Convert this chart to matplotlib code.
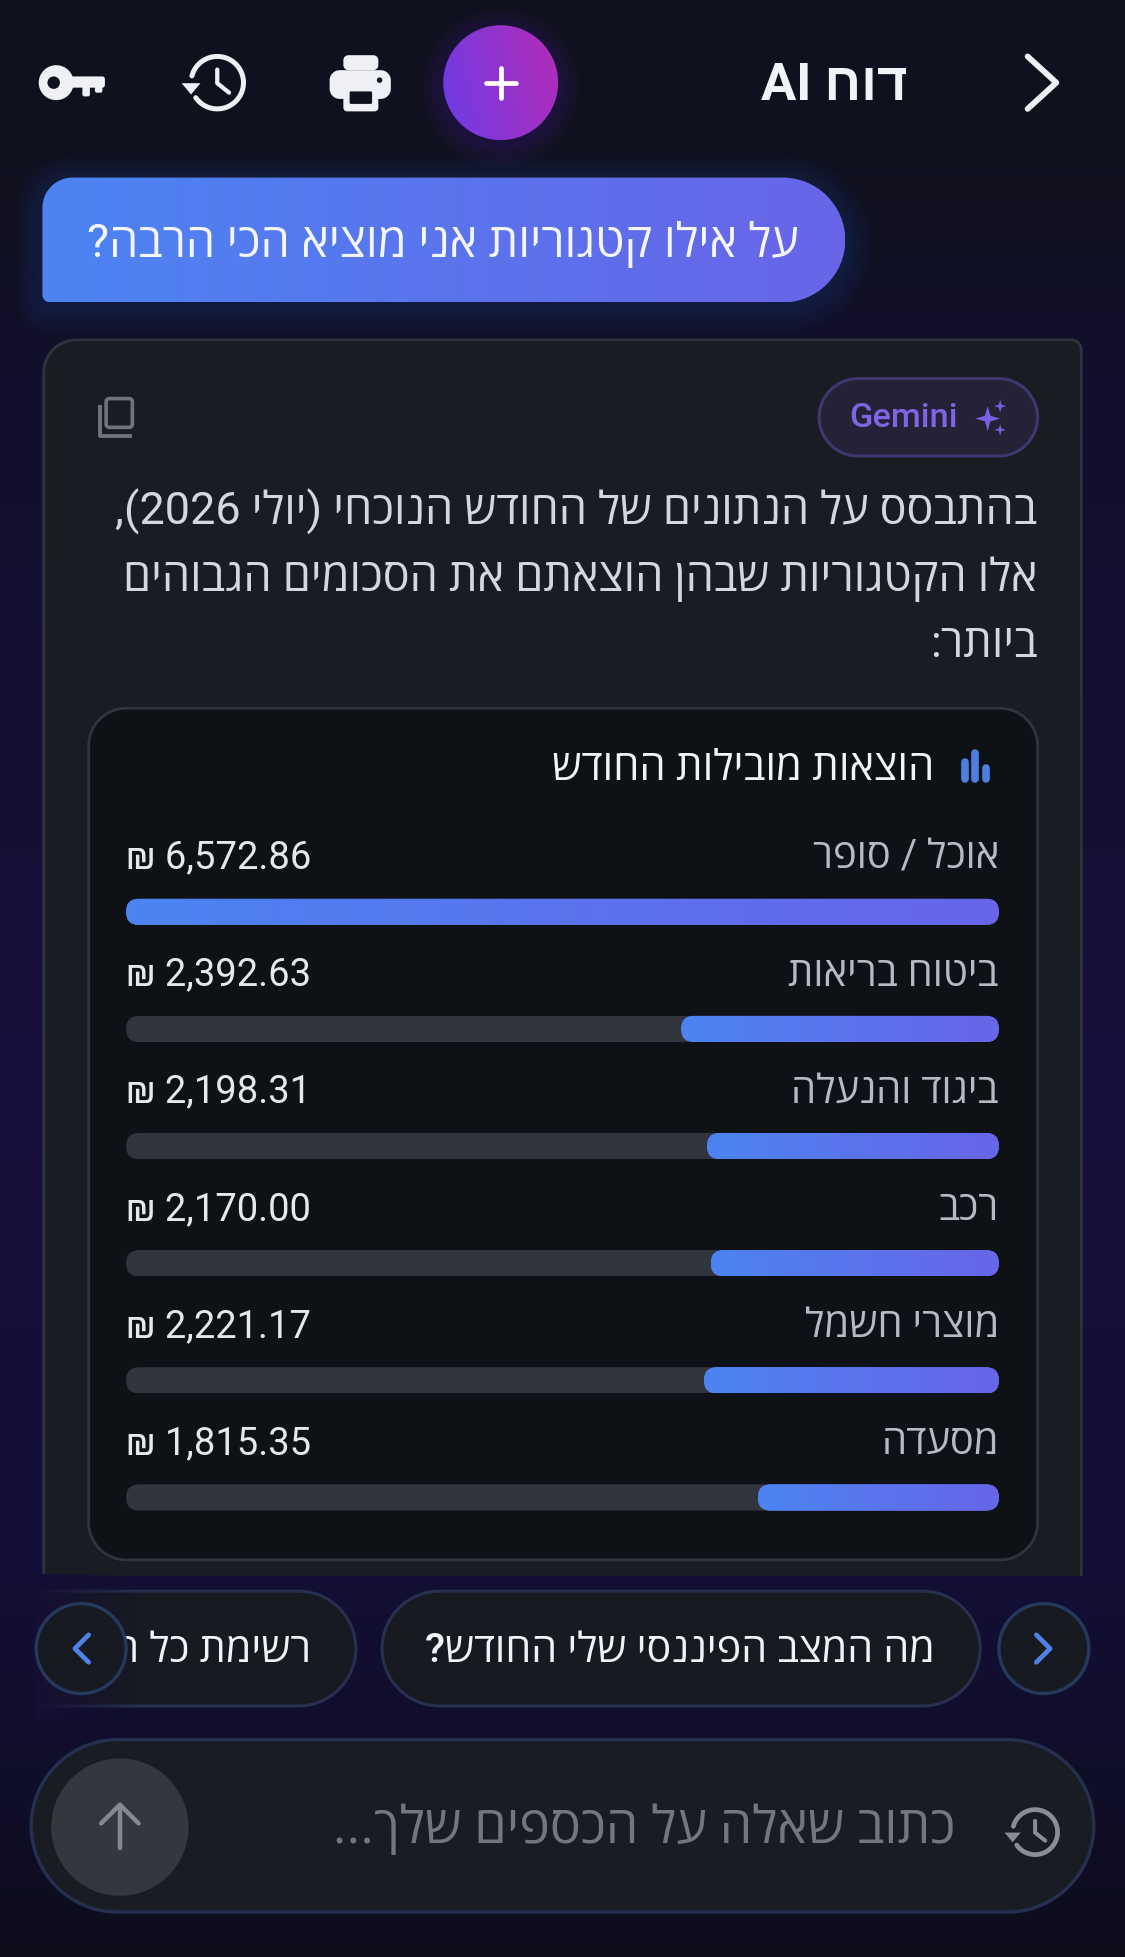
import re
import numpy as np
import matplotlib
matplotlib.use("Agg")
import matplotlib.pyplot as plt
from matplotlib.path import Path
from matplotlib.patches import PathPatch, Circle, FancyBboxPatch, Rectangle
from matplotlib.colors import LinearSegmentedColormap
from matplotlib.transforms import IdentityTransform

# ---- data ----
categories = ["אוכל / סופר", "ביטוח בריאות", "ביגוד והנעלה", "רכב", "מוצרי חשמל", "מסעדה"]
amounts = [6572.86, 2392.63, 2198.31, 2170.00, 2221.17, 1815.35]
amount_labels = ["6,572.86", "2,392.63", "2,198.31", "2,170.00", "2,221.17", "1,815.35"]
header_title = "דוח AI"
question = "על אילו קטגוריות אני מוציא הכי הרבה?"
paragraph = ["בהתבסס על הנתונים של החודש הנוכחי (יולי 2026),",
             "אלו הקטגוריות שבהן הוצאתם את הסכומים הגבוהים",
             "ביותר:"]
panel_title = "הוצאות מובילות החודש"
chips = ["מה המצב הפיננסי שלי החודש?", "רשימת כל ההוצאות"]
placeholder = "כתוב שאלה על הכספים שלך..."

FONT = ["Roboto", "Open Sans", "Liberation Sans", "DejaVu Sans"]
W, H = 901, 1568
PT = 1125 / 901 * 0.72


def vis(s):
    toks = re.findall(r"[A-Za-z0-9]+(?:[.,][0-9]+)*|.", s)
    mirror = {"(": ")", ")": "("}
    return "".join(mirror.get(t, t) for t in reversed(toks))


fig = plt.figure(figsize=(11.25, 19.58), dpi=100)
ax = fig.add_axes([0, 0, 1, 1])
ax.set_xlim(0, W)
ax.set_ylim(H, 0)
ax.axis("off")
ax.set_autoscale_on(False)


def rr(x0, y0, x1, y1, tl, tr=None, br=None, bl=None):
    tr = tl if tr is None else tr
    br = tl if br is None else br
    bl = tl if bl is None else bl
    k = 0.45
    v = [(x0 + tl, y0), (x1 - tr, y0),
         (x1 - tr * k, y0), (x1, y0 + tr * k), (x1, y0 + tr),
         (x1, y1 - br),
         (x1, y1 - br * k), (x1 - br * k, y1), (x1 - br, y1),
         (x0 + bl, y1),
         (x0 + bl * k, y1), (x0, y1 - bl * k), (x0, y1 - bl),
         (x0, y0 + tl),
         (x0, y0 + tl * k), (x0 + tl * k, y0), (x0 + tl, y0),
         (x0 + tl, y0)]
    c = [Path.MOVETO, Path.LINETO, Path.CURVE4, Path.CURVE4, Path.CURVE4, Path.LINETO,
         Path.CURVE4, Path.CURVE4, Path.CURVE4, Path.LINETO,
         Path.CURVE4, Path.CURVE4, Path.CURVE4, Path.LINETO,
         Path.CURVE4, Path.CURVE4, Path.CURVE4, Path.CLOSEPOLY]
    return Path(v, c)


def box(x0, y0, x1, y1, r, fc="none", ec="none", lw=0, z=2, **kw):
    radii = r if isinstance(r, tuple) else (r,)
    p = PathPatch(rr(x0, y0, x1, y1, *radii), fc=fc, ec=ec, lw=lw, zorder=z, **kw)
    ax.add_patch(p)
    return p


def grad(axis, extent, c0, c1, clip, z, diag=0.0):
    yy, xx = np.mgrid[0:1:32j, 0:1:128j]
    img = xx + diag * (1 - yy)
    cm = LinearSegmentedColormap.from_list("g", [c0, c1])
    im = axis.imshow(img, extent=extent, cmap=cm, aspect="auto", zorder=z,
                     vmin=0, vmax=1 + diag, interpolation="bilinear")
    im.set_clip_path(clip)
    return im


def txt(x, y, s, px, color, ha="right", z=6, weight="normal", **kw):
    return ax.text(x, y, s, fontsize=px * PT, color=color, ha=ha, va="baseline",
                   family=FONT, zorder=z, weight=weight, **kw)


# background
bgc = LinearSegmentedColormap.from_list("bg", [(0, "#0f1020"), (0.09, "#10111f"), (0.2, "#120f2c"),
                                               (0.55, "#180f3c"), (0.8, "#140f36"),
                                               (0.93, "#0f0e26"), (1, "#0d0d1c")])
ax.imshow(np.linspace(0, 1, 256)[:, None], extent=(0, W, H, 0), cmap=bgc, aspect="auto", zorder=0)
ax.add_patch(Rectangle((0, 0), W, 135, fc="#10111e", ec="none", zorder=0.5))


def glow(x0, y0, x1, y1, r, color, n=12, spread=24, a=0.03, z=1):
    radii = r if isinstance(r, tuple) else (r,)
    for i in range(n):
        d = spread * (i + 1) / n
        box(x0 - d, y0 - d + 4, x1 + d, y1 + d + 4, tuple(v + d for v in radii),
            fc=color, z=z, alpha=a)


# header icons
ICON = "#eef0f5"
ax.add_patch(Circle((45, 67), 14, fc=ICON, ec="none", zorder=5))
ax.add_patch(Circle((43, 67), 5, fc="#10111e", ec="none", zorder=6))
box(52, 62, 84, 71, 2, fc=ICON, z=5)
box(66, 68, 72, 78, 1.5, fc=ICON, z=5)
box(76, 68, 82, 75, 1.5, fc=ICON, z=5)


def history(cx, cy, r, color, lw, z=5):
    t = np.radians(np.linspace(165, -145, 80))
    ax.plot(cx + r * np.cos(t), cy - r * np.sin(t), color=color, lw=lw, zorder=z, solid_capstyle="round")
    ax.add_patch(plt.Polygon([(cx - r - r * .36, cy + r * .02), (cx - r + r * .36, cy + r * .02), (cx - r, cy + r * .45)],
                             fc=color, ec="none", zorder=z))
    ax.plot([cx, cx, cx + r * .45], [cy - r * .5, cy + r * .02, cy + r * .38], color=color, lw=lw * .85,
            zorder=z, solid_capstyle="round", solid_joinstyle="round")


history(174, 67, 21, ICON, 3.6)

box(275, 45, 303, 57, 4, fc=ICON, z=5)
box(264, 57, 313, 80, 8, fc=ICON, z=5)
box(275, 71, 303, 90, 3, fc=ICON, ec="#10111e", lw=0, z=6)
box(280, 74, 298, 84, 1, fc="#10111e", z=7)
ax.add_patch(Circle((304, 65), 2.2, fc="#10111e", zorder=7))

# plus button
glow(355, 21, 447, 113, 46, "#7a35d8", n=10, spread=18, a=0.02)
c = Circle((401, 67), 46, fc="none", ec="none", zorder=3)
ax.add_patch(c)
grad(ax, (355, 447, 113, 21), "#6c3ce6", "#b42cb8", c, 3, diag=0.25)
ax.plot([389, 413], [67, 67], color="white", lw=3.4, zorder=5, solid_capstyle="round")
ax.plot([401, 401], [55, 79], color="white", lw=3.4, zorder=5, solid_capstyle="round")

txt(727, 80, vis(header_title), 42, "#f1f3f7", weight="bold")
ax.plot([823, 846, 823], [46, 67, 88], color=ICON, lw=4.2, zorder=5, solid_capstyle="round", solid_joinstyle="round")

# question bubble
R = (24, 50, 50, 6)
glow(34, 143, 677, 243, R, "#4f78e8", n=12, spread=22, a=0.014)
b = box(34, 143, 677, 243, R, fc="none", z=3)
grad(ax, (34, 677, 243, 143), "#4c84f2", "#6865e8", b, 3)
txt(640, 206, vis(question), 37.4, "#f5f6fa")

# outer card, open at the bottom
cardclip = Rectangle((0, 0), W, 1263, transform=ax.transData)
card = box(35, 273, 866, 1320, (26, 8, 0, 0), fc="#191c23", ec="#2f333d", lw=2, z=2)
card.set_clip_path(cardclip)

# copy icon
box(85, 320, 106, 343, 2.5, ec="#6f737b", lw=2.6, z=5)
ax.plot([80, 80, 104], [327, 350, 350], color="#6f737b", lw=2.8, zorder=5, solid_joinstyle="round")

# Gemini chip
box(656, 304, 831, 366, 31, fc="#252238", ec="#3f3870", lw=2.2, z=4)
txt(680, 342, "Gemini", 27.5, "#7f64e6", ha="left", weight="medium")


def spark(cx, cy, s, color):
    a = s * 0.22
    pts = [(cx, cy - s), (cx + a, cy - a), (cx + s, cy), (cx + a, cy + a),
           (cx, cy + s), (cx - a, cy + a), (cx - s, cy), (cx - a, cy - a)]
    ax.add_patch(plt.Polygon(pts, fc=color, ec="none", zorder=5))


spark(791, 336, 10, "#7d5fe6")
spark(801, 326, 5, "#7d5fe6")
spark(801, 345, 4.5, "#7d5fe6")

# paragraph
for yy, line in zip([420, 473, 526], paragraph):
    txt(831, yy, vis(line), 36, "#d4d7dd")

# inner panel
box(71, 568, 831, 1250, 30, fc="#0e1116", ec="#30343c", lw=2, z=3)
txt(748, 625, vis(panel_title), 33.4, "#f1f3f7", weight="medium")
for xb, yt, col in [(772.5, 611, "#4d7fe0"), (780.5, 604, "#4d7fe0"), (790, 616, "#4d7fe0")]:
    ax.plot([xb, xb], [yt, 625], color=col, lw=5.5, zorder=5, solid_capstyle="round")

# bars, right-anchored, on their own value axis
BX0, BX1 = 101, 800
PITCH = 93.8
YT, YB = 720, 1211
bax = fig.add_axes([BX0 / W, 1 - YB / H, (BX1 - BX0) / W, (YB - YT) / H])
bax.patch.set_alpha(0)
bax.axis("off")
vmax = max(amounts)
ypos = np.arange(len(amounts))
bax.set_xlim(vmax, 0)
bax.set_ylim((YB - 731) / PITCH, (YT - 731) / PITCH)
bax.set_autoscale_on(False)
BH = 21 / PITCH


def rounded_clip(xa, xb, ya, yb):
    (px0, py0), (px1, py1) = bax.transData.transform([(xa, ya), (xb, yb)])
    xs, ys = sorted((px0, px1)), sorted((py0, py1))
    rad = (ys[1] - ys[0]) / 2
    p = FancyBboxPatch((xs[0] + rad, ys[0] + rad), xs[1] - xs[0] - 2 * rad, 0,
                       boxstyle=f"round,pad={rad}", transform=IdentityTransform())
    return p


track = bax.barh(ypos, [vmax] * len(ypos), height=BH, color="#31353d", zorder=1)
fill = bax.barh(ypos, amounts, height=BH, color="#5a74ec", zorder=2)
for i, (tr, fl, val) in enumerate(zip(track, fill, amounts)):
    tclip = rounded_clip(vmax, 0, i - BH / 2, i + BH / 2)
    tr.set_clip_path(tclip)
    fclip = rounded_clip(val, 0, i - BH / 2, i + BH / 2)
    fl.set_clip_path(fclip)
    grad(bax, (val, 0, i + BH / 2, i - BH / 2), "#4c84f2", "#6865e8", fclip, 3)
    bax.text(0, i - 35.5 / PITCH, vis(categories[i]), fontsize=32 * PT, color="#b6bac2", ha="right",
             va="baseline", family=FONT, zorder=6, clip_on=False)
    bax.text(vmax, i - 35.5 / PITCH, "₪ " + amount_labels[i], fontsize=30.5 * PT, color="#e6e8ec", ha="left",
             va="baseline", family=FONT, zorder=6, clip_on=False)

# suggestion chips
CH = "#171a20"
CE = "#27304f"
box(306, 1275, 785, 1367, 46, fc=CH, ec=CE, lw=2.2, z=4)
txt(749, 1331, vis(chips[0]), 33, "#f1f3f7", weight="medium")
left = box(-40, 1275, 285, 1367, 46, fc=CH, ec=CE, lw=2.2, z=4)
left.set_clip_path(Rectangle((30, 1260), 300, 120, transform=ax.transData))
t = txt(249, 1331, vis(chips[1]), 33, "#f1f3f7", weight="medium", clip_on=True)
t.set_clip_path(Rectangle((70, 1260), 300, 120, transform=ax.transData))
# left edge of the scrolled chip fades into the page
fade = np.zeros((1, 64, 4))
fade[..., :3] = matplotlib.colors.to_rgb("#150f34")
fade[..., 3] = np.linspace(1, 0, 64)
ax.imshow(fade, extent=(28, 112, 1380, 1262), aspect="auto", zorder=5, interpolation="bilinear")

for cx, pts in [(65, [(71, 1310), (60, 1321), (71, 1332)]), (836, [(830, 1310), (841, 1321), (830, 1332)])]:
    ax.add_patch(Circle((cx, 1321), 36, fc=CH, ec="#25395f", lw=2.4, zorder=7))
    xs, ys = zip(*pts)
    ax.plot(xs, ys, color="#4f82e6", lw=3.4, zorder=8, solid_capstyle="round", solid_joinstyle="round")

# input
box(25, 1394, 876, 1532, 69, fc="#191c22", ec="#252f50", lw=2.4, z=4)
ax.add_patch(Circle((96, 1464), 55, fc="#33373f", ec="none", zorder=5))
ax.plot([96, 96], [1446, 1481], color="#85888f", lw=3.2, zorder=6, solid_capstyle="round")
ax.plot([81, 96, 111], [1461, 1446, 1461], color="#85888f", lw=3.2, zorder=6,
        solid_capstyle="round", solid_joinstyle="round")
txt(765, 1476, vis(placeholder), 41.5, "#73767e")
history(829, 1468, 18, "#8a8d94", 3.4)

fig.savefig("out.png", dpi=100, facecolor="#10111e")
